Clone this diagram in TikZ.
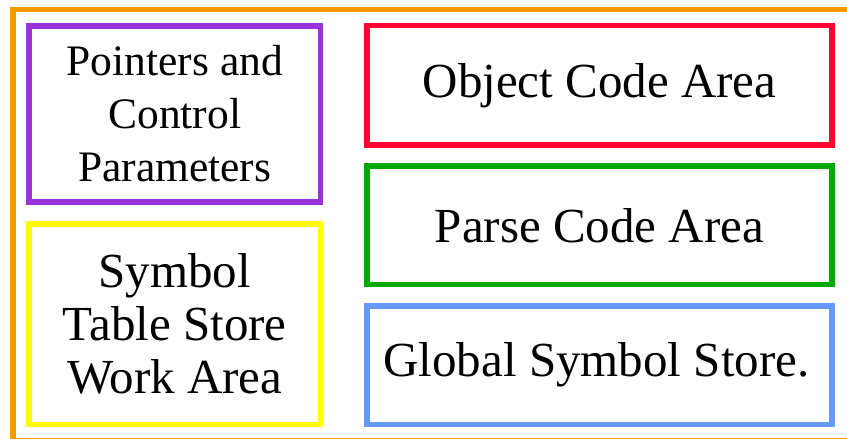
\documentclass[tikz,border=0pt]{standalone}
\usepackage{fontspec}
\setmainfont{Liberation Serif}
\usepackage{tikz}
\usetikzlibrary{positioning}
\definecolor{frameorange}{RGB}{255,153,0}
\definecolor{areapurple}{RGB}{153,51,221}
\definecolor{areared}{RGB}{255,0,51}
\definecolor{areagreen}{RGB}{0,170,0}
\definecolor{areayellow}{RGB}{255,255,0}
\definecolor{areablue}{RGB}{102,153,255}

\begin{document}
\begin{tikzpicture}[
  x=1pt, y=-1pt,
  area/.style={draw, line width=5.5pt, inner sep=0pt, align=center,
    font=\fontsize{49}{53}\selectfont},
  leftarea/.style={area, minimum width=291.5pt},
  rightarea/.style={area, minimum width=465pt, minimum height=118.5pt},
]
\useasboundingbox (0,0) rectangle (847,439);
\clip (0,0) rectangle (847,439);
% outer frame, right and bottom run off the page
\draw[line width=5.5pt, frameorange] (13,9.5) rectangle (870,441);
% left column
\node[leftarea, areapurple, text=black, minimum height=176pt,
  font=\fontsize{43.5}{53}\selectfont] (ptrs) at (174.75,114)
  {Pointers and\\Control\\Parameters};
\node[leftarea, areayellow, text=black, minimum height=200.5pt] (symtab)
  at (174.75,324.25) {Symbol\\Table Store\\Work Area};
% right column
\node[rightarea, areared, text=black, minimum height=119.5pt] (objcode)
  at (599.5,85.25) {Object Code Area};
\node[rightarea, areagreen, text=black] (parse) at (599.5,225.25)
  {Parse Code Area};
\node[rightarea, areablue, text=black] (global) at (599.5,365.25)
  {\hspace*{-6pt}Global Symbol Store.};
\end{tikzpicture}
\end{document}
